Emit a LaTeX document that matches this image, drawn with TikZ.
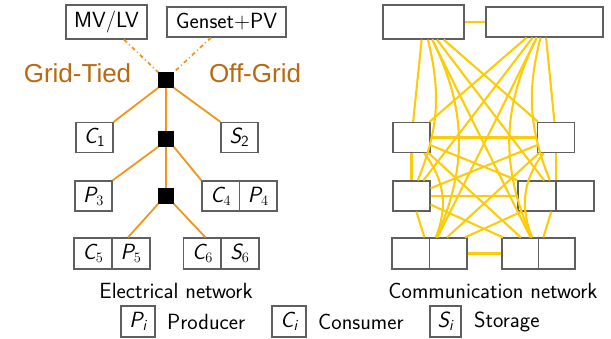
\documentclass[tikz,border=0pt]{standalone}
\usepackage{fontspec}
\newfontfamily\arialf{Liberation Sans}
\usetikzlibrary{calc}
\definecolor{elec}{RGB}{240,150,30}
\definecolor{electext}{RGB}{185,105,15}
\definecolor{comm}{RGB}{252,204,10}
\definecolor{boxgray}{RGB}{95,95,95}
\begin{document}
\begin{tikzpicture}[x=1pt,y=-1pt,
  every node/.style={font=\sffamily\fontsize{22}{26}\selectfont},
  ubox/.style={draw=boxgray,line width=1.2pt,fill=white,inner sep=0pt,minimum width=37pt,minimum height=30pt},
  junc/.style={fill=black,draw=black,inner sep=0pt,minimum size=15pt},
  eline/.style={draw=elec,line width=1.8pt},
  cline/.style={draw=comm,line width=2.1pt},
  lbl/.style={inner sep=0pt},
  gtext/.style={text=electext,inner sep=0pt,font=\arialf\fontsize{26}{30}\selectfont}]
\useasboundingbox (0,0) rectangle (611,339);
% ---------- electrical network ----------
\node[ubox,minimum width=81pt,minimum height=34pt] (mvlv) at (106.5,22) {MV/LV};
\node[ubox,minimum width=119pt,minimum height=30pt] (genset) at (226.5,22) {Genset+PV};
\node[gtext] (gt) at (77.5,73) {Grid-Tied};
\node[gtext] (og) at (255,73) {Off-Grid};
\node[junc] (j1) at (166,80) {};
\node[ubox] (C1) at (94.5,137.5) {{\itshape C}\textsubscript{1}};
\node[ubox] (S2) at (239.5,137.5) {{\itshape S}\textsubscript{2}};
\node[junc] (j2) at (166,139) {};
\node[ubox] (P3) at (93.5,196) {{\itshape P}$_3$};
\node[ubox,minimum width=37.5pt] (C4) at (220.75,196) {{\itshape C}$_4$};
\node[ubox,minimum width=37.5pt] (P4) at (258.25,196) {{\itshape P}$_4$};
\node[junc] (j3) at (166,196) {};
\node[ubox,minimum width=38pt,minimum height=31pt] (C5) at (93,253.5) {{\itshape C}$_5$};
\node[ubox,minimum width=38pt,minimum height=31pt] (P5) at (131,253.5) {{\itshape P}$_5$};
\node[ubox,minimum width=38pt,minimum height=31pt] (C6) at (202.5,253.5) {{\itshape C}$_6$};
\node[ubox,minimum width=38pt,minimum height=31pt] (S6) at (240,253.5) {{\itshape S}$_6$};
\draw[eline,dash pattern=on 4pt off 3pt on 1pt off 3pt] ($(mvlv.south)+(17.5,0)$) -- (j1.north west);
\draw[eline,dash pattern=on 4pt off 3pt on 1pt off 3pt] ($(genset.south)+(-15.5,0)$) -- (j1.north east);
\draw[eline] (j1.south west) -- (C1.north east);
\draw[eline] (j1.south east) -- (S2.north west);
\draw[eline] (j1) -- (j2);
\draw[eline] (j2.south west) -- (P3.north east);
\draw[eline] (j2.south east) -- (C4.north west);
\draw[eline] (j2) -- (j3);
\draw[eline] (j3.south west) -- ($(P5.north)+(-3,0)$);
\draw[eline] (j3.south east) -- ($(C6.north)+(3,0)$);
\node[lbl] (elab) at (176,291) {Electrical network};
% ---------- communication network ----------
\node[ubox,minimum width=81pt,minimum height=34pt] (A) at (423.5,22) {};
\node[ubox,minimum width=117pt,minimum height=30pt] (B) at (544.5,22) {};
\node[ubox] (C) at (411.5,137.5) {};
\node[ubox] (D) at (556,137.5) {};
\node[ubox] (E) at (411.5,196) {};
\node[ubox,minimum width=76pt] (F) at (556,196) {};
\node[ubox,minimum width=75pt,minimum height=31pt] (G) at (429.5,253.5) {};
\node[ubox,minimum width=73pt,minimum height=31pt] (H) at (538.5,253.5) {};
\draw[draw=boxgray,line width=1.2pt] (F.north) -- (F.south);
\draw[draw=boxgray,line width=1.2pt] (G.north) -- (G.south);
\draw[draw=boxgray,line width=1.2pt] (H.north) -- (H.south);
\draw[cline] (A) -- (B);
\draw[cline] (C) -- (D);
\draw[cline] (E) -- (F);
\draw[cline] (G) -- (H);
\draw[cline] (A) -- (C);
\draw[cline] (C) -- (E);
\draw[cline] (E) -- (G);
\draw[cline] (B) -- (D);
\draw[cline] (D) -- (F);
\draw[cline] (F) -- (H);
\draw[cline] (A) -- (D);
\draw[cline] (A) -- (F);
\draw[cline] (A) -- (H);
\draw[cline] (B) -- (C);
\draw[cline] (B) -- (E);
\draw[cline] (B) -- (G);
\draw[cline] (C) -- (F);
\draw[cline] (C) -- (H);
\draw[cline] (D) -- (E);
\draw[cline] (D) -- (G);
\draw[cline] (E) -- (H);
\draw[cline] (F) -- (G);
\draw[cline] (A) to[bend left=18] (E);
\draw[cline] (A) to[bend left=25] (G);
\draw[cline] (C) to[bend left=30] (G);
\draw[cline] (B) to[bend right=18] (F);
\draw[cline] (B) to[bend right=25] (H);
\draw[cline] (D) to[bend right=30] (H);
\node[lbl] (clab) at (493,291) {Communication network};
% ---------- legend ----------
\node[ubox,minimum width=34pt,minimum height=31pt] (Pi) at (138,321.5) {{\itshape P}\textsubscript{\itshape i}};
\node[lbl,anchor=west] (prod) at (167,321.5) {Producer};
\node[ubox,minimum width=34pt,minimum height=31pt] (Ci) at (289,321.5) {{\itshape C}\textsubscript{\itshape i}};
\node[lbl,anchor=west] (cons) at (318,321.5) {Consumer};
\node[ubox,minimum width=31pt,minimum height=31pt] (Si) at (445.5,321.5) {{\itshape S}\textsubscript{\itshape i}};
\node[lbl,anchor=west] (stor) at (474,321.5) {Storage};
\end{tikzpicture}
\end{document}
